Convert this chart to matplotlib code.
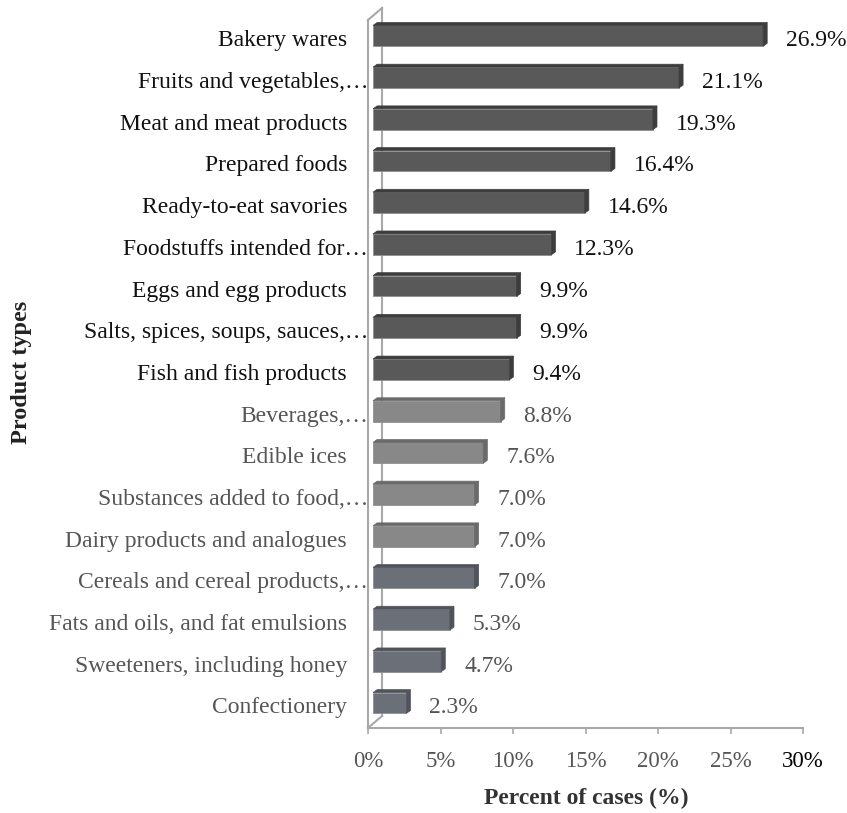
import numpy as np
import matplotlib
matplotlib.use("Agg")
import matplotlib.pyplot as plt
from matplotlib.patches import Polygon
from matplotlib.transforms import offset_copy, blended_transform_factory

plt.rcParams['font.family'] = ['Liberation Serif', 'DejaVu Serif']

categories = [
    "Bakery wares", "Fruits and vegetables,…", "Meat and meat products",
    "Prepared foods", "Ready-to-eat savories", "Foodstuffs intended for…",
    "Eggs and egg products", "Salts, spices, soups, sauces,…",
    "Fish and fish products", "Beverages,…", "Edible ices",
    "Substances added to food,…", "Dairy products and analogues",
    "Cereals and cereal products,…", "Fats and oils, and fat emulsions",
    "Sweeteners, including honey", "Confectionery",
]
percents = [26.9, 21.1, 19.3, 16.4, 14.6, 12.3, 9.9, 9.9, 9.4,
            8.8, 7.6, 7.0, 7.0, 7.0, 5.3, 4.7, 2.3]
x_ticks = [0, 5, 10, 15, 20, 25, 30]

# shade groups: dark, light grey, bluish grey
front_cols = ['#595959'] * 9 + ['#888888'] * 4 + ['#6b6f77'] * 4
side_cols = ['#3d3d3d'] * 9 + ['#6a6a6a'] * 4 + ['#50535a'] * 4
text_cols = ['#111111'] * 9 + ['#555555'] * 8

fig = plt.figure(figsize=(8.47, 8.13), dpi=100)
ax = fig.add_axes([368 / 847, 1 - 728 / 813, (803 - 368) / 847, (728 - 20) / 813])

ys = np.arange(len(categories))
h = 0.5
dx, lift = 0.35, 0.12       # bars sit a bit inside the 3D box
ddx, ddy = 0.28, -0.07      # depth of each bar

ax.barh(ys - lift, percents, left=dx, height=h, color=front_cols,
        edgecolor='#8f8f8f', linewidth=0.6, zorder=3)

for y, v, sc in zip(ys, percents, side_cols):
    xr = v + dx
    yt = y - lift - h / 2
    yb = y - lift + h / 2
    side = Polygon([(xr, yt), (xr, yb), (xr + ddx, yb + ddy), (xr + ddx, yt + ddy)],
                   closed=True, facecolor=sc, edgecolor=sc, lw=0.5, zorder=3)
    top = Polygon([(dx, yt), (xr, yt), (xr + ddx, yt + ddy), (dx + ddx, yt + ddy)],
                  closed=True, facecolor=sc, edgecolor=sc, lw=0.5, zorder=3)
    ax.add_patch(side)
    ax.add_patch(top)

ax.set_xlim(0, 30)
ax.set_ylim(16.48, -0.5)

# 3D walls
wall = '#a8a8a8'
wx, wy = 0.97, -0.29
ax.plot([wx, wx], [16.48 + wy, -0.5 + wy], color=wall, lw=1.5, clip_on=False, zorder=2)
ax.plot([0, wx], [-0.5, -0.5 + wy], color=wall, lw=1.5, clip_on=False, zorder=2)
ax.plot([0, wx], [16.48, 16.48 + wy], color=wall, lw=1.5, clip_on=False, zorder=2)

for s in ['top', 'right']:
    ax.spines[s].set_visible(False)
ax.spines['left'].set_color(wall)
ax.spines['left'].set_linewidth(1.5)
ax.spines['bottom'].set_color(wall)
ax.spines['bottom'].set_linewidth(1.5)

ax.set_xticks(x_ticks)
ax.set_xticklabels([f"{t}%" for t in x_ticks], fontsize=16.5)
for lbl in ax.get_xticklabels()[:-1]:
    lbl.set_color('#555555')
ax.tick_params(axis='x', direction='out', length=4, width=1.2, color=wall, pad=12.5)
ax.set_yticks([])

# category labels, truncated ones reach the wall
trans = blended_transform_factory(ax.transAxes, ax.transData)
for y, name, tc in zip(ys, categories, text_cols):
    shift = 0 if name.endswith('…') else -21
    ax.text(0, y, name, transform=offset_copy(trans, fig=fig, x=shift, y=0, units='dots'),
            ha='right', va='center', fontsize=17, color=tc)

# value labels
for y, v, tc in zip(ys, percents, text_cols):
    ax.text(v, y, f"{v:.1f}%", transform=offset_copy(ax.transData, fig=fig, x=28, y=0, units='dots'),
            ha='left', va='center', fontsize=17, color=tc)

fig.text(586 / 847, 1 - 798 / 813, "Percent of cases (%)", ha='center', va='center',
         fontsize=17, fontweight='bold', color='#333333')
fig.text(22 / 847, 1 - 372 / 813, "Product types", ha='center', va='center',
         rotation=90, fontsize=17.5, fontweight='bold', color='#222222')

fig.savefig("out.png", dpi=100)
